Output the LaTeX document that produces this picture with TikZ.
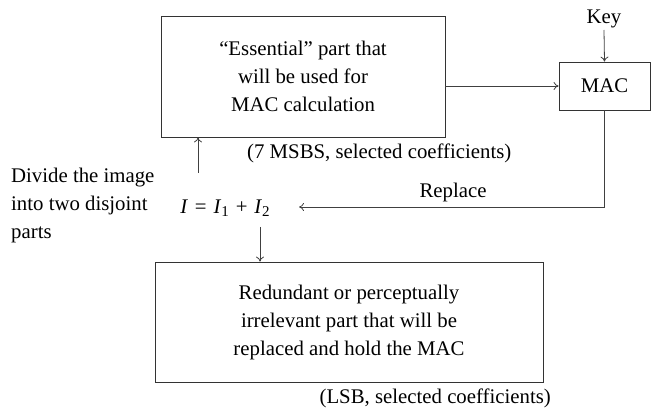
\documentclass[tikz,border=0pt]{standalone}
\usepackage{fontspec}
\setmainfont{Liberation Serif}
\usetikzlibrary{arrows.meta}
\newcommand{\subs}[1]{\raisebox{-0.35ex}{\fontsize{15}{15}\selectfont #1}}
\begin{document}
\begin{tikzpicture}[x=1pt,y=-1pt,
  every node/.style={font=\fontsize{20.8}{28}\selectfont, inner sep=0pt},
  boxs/.style={draw=black!80, line width=0.8pt},
  conn/.style={draw=black!75, line width=0.8pt, -{To[length=5pt,width=8pt]}},
  plain/.style={draw=black!75, line width=0.8pt}]
\useasboundingbox (0,0) rectangle (654,409);
% boxes
\node[boxs, minimum width=284pt, minimum height=121pt, align=center] (ess) at (303,76.5)
  {“Essential” part that\\will be used for\\MAC calculation};
\node[boxs, minimum width=91pt, minimum height=48pt] (mac) at (604.5,86) {MAC};
\node[boxs, minimum width=388pt, minimum height=120pt, align=center] (red) at (349,322)
  {Redundant or perceptually\\irrelevant part that will be\\replaced and hold the MAC};
% texts
\node (key) at (604,19) {Key};
\node (eq) at (225,208) {\textit{I}\,\,=\,\,\textit{I}\subs{1}\,\,+\,\,\textit{I}\subs{2}};
\node[align=left, anchor=west] (div) at (11,205) {Divide the image\\into two disjoint\\parts};
\node[anchor=west] (msb) at (247,153) {(7 MSBS, selected coefficients)};
\node[anchor=east] (lsb) at (551,398) {(LSB, selected coefficients)};
\node (rep) at (453,192) {Replace};
% connectors
\coordinate (equp) at (198,173);
\coordinate (eqdn) at (260,227);
\coordinate (eqr) at (299,207);
\coordinate (corner) at (mac.south |- eqr);
\draw[conn] (key.south |- 0,30) -- (mac.north);
\draw[conn] (ess.east |- mac.west) -- (mac.west);
\draw[conn] (equp) -- (equp |- ess.south);
\draw[conn] (eqdn) -- (eqdn |- red.north);
\draw[conn] (mac.south) -- (corner) -- (eqr);
\end{tikzpicture}
\end{document}
